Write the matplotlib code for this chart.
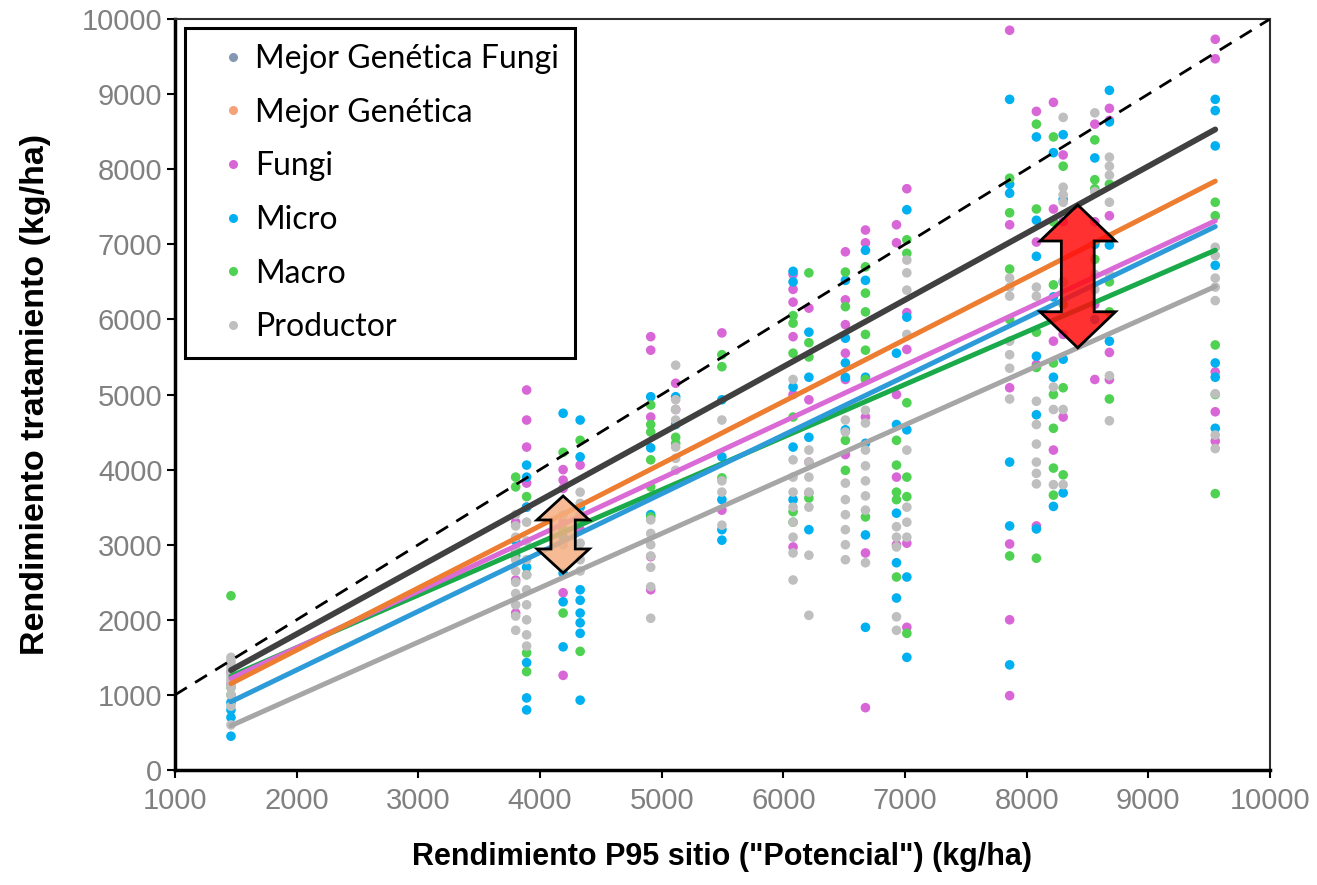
import matplotlib
matplotlib.use("Agg")
import matplotlib.pyplot as plt
from matplotlib.lines import Line2D
from matplotlib.patches import Polygon
import numpy as np

# site potential yield (x) and treatment yields (kg/ha)
sites = [1460, 3800, 3890, 4190, 4330, 4910, 5115, 5495, 6080, 6210, 6510,
         6675, 6930, 7015, 7860, 8080, 8220, 8300, 8560, 8680, 9550]

fungi_y = [
    [1300, 1150], [2530, 2090, 3300], [5060, 4660, 4300, 3820, 3500],
    [4000, 3860, 3750, 2360, 1260, 3300], [4060, 3200],
    [5770, 5590, 4700, 2840, 2400], [5150, 4800], [5820, 3460],
    [6600, 6400, 6230, 5770, 5000, 2970], [6150, 4930, 3690, 4100],
    [6900, 6260, 5930, 5550, 5200, 4200], [7190, 7020, 2890, 830, 4700],
    [7260, 7020, 3900, 3000, 5000], [7740, 6090, 5600, 3020, 1900],
    [9850, 7260, 5090, 3010, 2000, 990], [8770, 7030, 3250, 5400],
    [8890, 7470, 5710, 4260], [8190, 7300, 4700, 5800],
    [8600, 7300, 6200, 5200], [8810, 8650, 7380, 5560, 5200],
    [9730, 9470, 4770, 4380, 5300],
]
micro_y = [
    [450, 700, 800, 900], [3050, 2850], [4060, 3900, 3500, 1430, 960, 800, 2700],
    [4750, 2620, 2240, 1640, 3100],
    [4660, 4170, 2400, 2260, 2090, 1960, 1820, 930, 3500],
    [4970, 4290, 3400], [4970, 4600], [4930, 4170, 3600, 3200, 3060],
    [6640, 6500, 5100, 4300, 3600], [5830, 5230, 4430, 3200],
    [6520, 5750, 5420, 5230, 4530], [6920, 6520, 5230, 4350, 3130, 1900],
    [5550, 3420, 2760, 2290, 4600], [7460, 6030, 4530, 2570, 1500],
    [8930, 7800, 7680, 4100, 3250, 1400], [8430, 7320, 6840, 5510, 4730, 3210],
    [8220, 5230, 3510, 6300], [8460, 7600, 5470, 3690, 6500],
    [8150, 7000, 6000], [9050, 8630, 6990, 5710],
    [8930, 8780, 8310, 6720, 5420, 5230, 4550],
]
macro_y = [
    [2320, 1100, 1000], [3900, 3770, 2900], [3640, 1560, 1310, 2600],
    [4230, 3200, 2090], [4390, 1580, 3300],
    [4860, 4600, 4500, 4130, 3770, 3370], [4430, 4350], [5530, 5370, 3890],
    [6050, 5950, 5550, 4700, 3440, 3300], [6620, 5690, 5500, 3620],
    [6630, 6170, 4390, 3990], [6700, 6350, 6100, 5800, 5590, 5200, 3370],
    [4390, 4060, 3700, 3600, 2570], [7060, 6880, 4890, 3900, 3640, 1820],
    [7880, 7420, 6670, 6000, 2850], [8600, 7470, 5830, 5360, 2820],
    [8430, 7300, 6460, 5420, 5000, 4550, 4020, 3660], [8040, 5090, 3930, 6200],
    [8390, 7860, 7740, 6800], [7800, 6500, 4940, 6100],
    [7560, 7380, 5660, 5000, 3680],
]
productor_y = [
    [1500, 1450, 1400, 1350, 1300, 1250, 1200, 1150, 1100, 1000, 850, 600],
    [3400, 3250, 3100, 2950, 2800, 2650, 2500, 2350, 2200, 2050, 1860],
    [3300, 3050, 2800, 2600, 2400, 2200, 2000, 1800, 1650],
    [3400, 3000], [3700, 3550, 3400, 3020, 2800, 2650],
    [3330, 3150, 3000, 2850, 2700, 2440, 2020],
    [5390, 4930, 4800, 4660, 4300, 4150, 3990], [4660, 3850, 3700, 3260],
    [5200, 4130, 3900, 3700, 3500, 3300, 3100, 2890, 2530],
    [4260, 4100, 3900, 3700, 3500, 2860, 2060],
    [4660, 4500, 3820, 3600, 3400, 3200, 3000, 2800],
    [4790, 4620, 4260, 4050, 3850, 3650, 3460, 2760],
    [3240, 3100, 2970, 2040, 1860],
    [6790, 6620, 6390, 5800, 4260, 3500, 3300, 3100],
    [6550, 6430, 6310, 5710, 5530, 5350, 4940],
    [6430, 6310, 4910, 4600, 4340, 4100, 3950, 3810],
    [5100, 4800, 3800], [8690, 7760, 7660, 7560, 6500, 4800, 3800],
    [8750, 7700, 6600, 6400],
    [8160, 8040, 7920, 7560, 7100, 6600, 5250, 4650],
    [6960, 6850, 6550, 6430, 6250, 5010, 4460, 4280],
]

series = ["Mejor Genética Fungi", "Mejor Genética", "Fungi", "Micro", "Macro", "Productor"]
point_colors = ["#8497B0", "#F4A27A", "#D966D6", "#00B0F0", "#4FD152", "#BFBFBF"]
line_colors = ["#404040", "#ED7D31", "#DA6BD6", "#2E9BD9", "#1AAA4A", "#A6A6A6"]
# linear trend per series (y = slope * x + intercept)
trend_slope = [0.890, 0.827, 0.753, 0.782, 0.701, 0.723]
trend_intercept = [30, -57, 121, -232, 227, -466]
points = {"Fungi": fungi_y, "Micro": micro_y, "Macro": macro_y, "Productor": productor_y}

# gap arrows: x position, colour
arrow_x = [4190, 8420]
arrow_fill = [(0.96, 0.69, 0.51, 0.85), (1.0, 0.05, 0.05, 0.85)]

num_font = ["Liberation Sans", "DejaVu Sans"]

fig = plt.figure(figsize=(13.17, 8.85), dpi=100)
ax = fig.add_axes([175 / 1317, 115 / 885, 1095 / 1317, 751 / 885])

for name, col in zip(series, point_colors):
    if name not in points:
        continue
    xs, ys = [], []
    for sx, vals in zip(sites, points[name]):
        xs += [sx] * len(vals)
        ys += vals
    ax.scatter(xs, ys, s=48, color=col, edgecolors="none", zorder=2)

ax.axline((0, 0), slope=1, color="black", lw=2, ls=(0, (5, 3.5)), zorder=3)

xfit = np.array([min(sites), max(sites)])
for i in reversed(range(len(series))):
    lw = 4.2 if i == 0 else 3.6
    ax.plot(xfit, trend_slope[i] * xfit + trend_intercept[i], color=line_colors[i],
            lw=lw, solid_capstyle="round", zorder=4)


def double_arrow(x, lo, hi, hw, bw, hl, fc):
    verts = [(x, hi), (x + hw, hi - hl), (x + bw, hi - hl), (x + bw, lo + hl),
             (x + hw, lo + hl), (x, lo), (x - hw, lo + hl), (x - bw, lo + hl),
             (x - bw, hi - hl), (x - hw, hi - hl)]
    ax.add_patch(Polygon(verts, closed=True, fc=fc, ec="black", lw=2,
                         joinstyle="miter", zorder=5))


for k, (xa, fc) in enumerate(zip(arrow_x, arrow_fill)):
    top = trend_slope[0] * xa + trend_intercept[0]
    bot = trend_slope[-1] * xa + trend_intercept[-1]
    if k == 0:
        double_arrow(xa, bot + 60, top - 110, 215, 100, 320, fc)
    else:
        double_arrow(xa, bot, top, 310, 135, 480, fc)

ax.set_xlim(1000, 10000)
ax.set_ylim(0, 10000)
ax.set_xticks(range(1000, 10001, 1000))
ax.set_yticks(range(0, 10001, 1000))
ax.tick_params(direction="out", length=6, width=1.5, color="black",
               labelcolor="#808080", labelsize=21)
ax.tick_params(axis="x", pad=6)
ax.tick_params(axis="y", pad=3)
for lab in ax.get_xticklabels() + ax.get_yticklabels():
    lab.set_family(num_font)

for side in ["left", "bottom"]:
    ax.spines[side].set_linewidth(2.5)
    ax.spines[side].set_color("black")
for side in ["top", "right"]:
    ax.spines[side].set_linewidth(1.5)
    ax.spines[side].set_color("#303030")

ax.set_xlabel('Rendimiento P95 sitio ("Potencial") (kg/ha)', fontsize=22,
              fontweight="bold", family=num_font, labelpad=20)
ax.set_ylabel("Rendimiento tratamiento (kg/ha)", fontsize=24.5,
              fontweight="bold", family=num_font, labelpad=22)

handles = [Line2D([], [], ls="none", marker="o", markersize=6.5, color=c,
                  markeredgecolor="none") for c in point_colors]
leg = ax.legend(handles, series, loc="upper left",
                bbox_to_anchor=(10 / 1095, 1 - 9 / 751), borderaxespad=0,
                prop={"family": ["Lato", "DejaVu Sans"], "size": 23},
                fancybox=False, framealpha=1, edgecolor="black",
                labelspacing=0.74, handletextpad=-0.3, borderpad=0.5,
                handlelength=2.0)
leg.get_frame().set_linewidth(2.2)
leg.set_zorder(6)

fig.savefig("out.png", dpi=100)
